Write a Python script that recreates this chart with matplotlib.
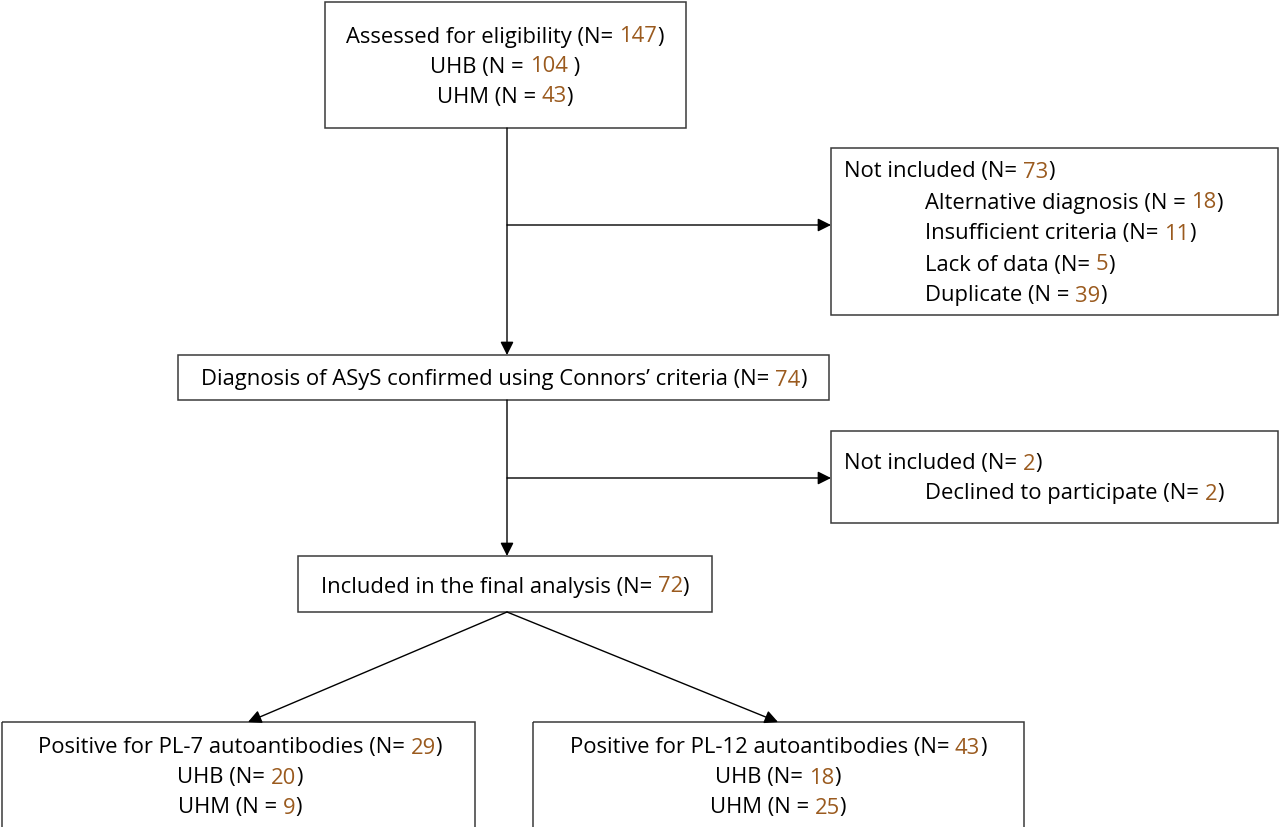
import matplotlib.pyplot as plt
from matplotlib.patches import Rectangle

# FLOW COUNTS
assessed_total = 147
sites = ["UHB", "UHM"]
assessed_by_site = [104, 43]
not_included_1 = 73
reasons = ["Alternative diagnosis", "Insufficient criteria", "Lack of data", "Duplicate"]
reason_counts = [18, 11, 5, 39]
reason_eq = ["N = ", "N= ", "N= ", "N = "]
confirmed = 74
not_included_2 = 2
declined = 2
included = 72
pl7_total = 29
pl7_by_site = [20, 9]
pl12_total = 43
pl12_by_site = [18, 25]

BROWN = "#9a5a1e"
EDGE = "#3a3a3a"
FS = 15.8

plt.rcParams["font.family"] = ["Open Sans", "DejaVu Sans"]

fig = plt.figure(figsize=(12.8, 8.27), dpi=100)
ax = fig.add_axes([0, 0, 1, 1])
ax.set_xlim(0, 1280)
ax.set_ylim(827, 0)
ax.axis("off")
fig.canvas.draw()
renderer = fig.canvas.get_renderer()


def rich_line(x, y, parts, ha="center"):
    # parts: list of (text, colour); drawn side by side
    texts = [ax.text(0, y, s, color=c, fontsize=FS, va="center", ha="left") for s, c in parts]
    widths = [t.get_window_extent(renderer).width for t in texts]
    total = sum(widths)
    start = x - total / 2 if ha == "center" else x
    for t, w in zip(texts, widths):
        t.set_x(start)
        start += w


def num_line(prefix, n, suffix=")"):
    return [(prefix, "black"), (str(n), BROWN), (suffix, "black")]


def box(x0, y0, x1, y1):
    ax.add_patch(Rectangle((x0, y0), x1 - x0, y1 - y0, fill=False, ec=EDGE, lw=1.1))


def arrow(x0, y0, x1, y1):
    ax.annotate("", xy=(x1, y1), xytext=(x0, y0),
                arrowprops=dict(arrowstyle="-|>", color="black", lw=1,
                                mutation_scale=20, shrinkA=0, shrinkB=0))


# BOXES
box(325, 2, 686, 128)
rich_line(505, 37, num_line("Assessed for eligibility (N= ", assessed_total))
rich_line(505, 67, num_line(sites[0] + " (N = ", assessed_by_site[0], " )"))
rich_line(505, 97, num_line(sites[1] + " (N = ", assessed_by_site[1]))

box(831, 148, 1278, 315)
rich_line(844, 172, num_line("Not included (N= ", not_included_1), ha="left")
for i, (r, n, eq) in enumerate(zip(reasons, reason_counts, reason_eq)):
    rich_line(925, 203 + 31 * i, num_line(r + " (" + eq, n), ha="left")

box(178, 355, 829, 400)
rich_line(504, 380, num_line("Diagnosis of ASyS confirmed using Connors\u2019 criteria (N= ", confirmed))

box(831, 431, 1278, 523)
rich_line(844, 464, num_line("Not included (N= ", not_included_2), ha="left")
rich_line(925, 494, num_line("Declined to participate (N= ", declined), ha="left")

box(298, 556, 712, 612)
rich_line(505, 587, num_line("Included in the final analysis (N= ", included))

box(2, 722, 475, 840)
rich_line(240, 748, num_line("Positive for PL-7 autoantibodies (N= ", pl7_total))
rich_line(240, 778, num_line(sites[0] + " (N= ", pl7_by_site[0]))
rich_line(240, 808, num_line(sites[1] + " (N = ", pl7_by_site[1]))

box(533, 722, 1024, 840)
rich_line(778, 748, num_line("Positive for PL-12 autoantibodies (N= ", pl12_total))
rich_line(778, 778, num_line(sites[0] + " (N= ", pl12_by_site[0]))
rich_line(778, 808, num_line(sites[1] + " (N = ", pl12_by_site[1]))

# ARROWS
arrow(507, 128, 507, 355)
arrow(507, 225, 831, 225)
arrow(507, 400, 507, 556)
arrow(507, 478, 831, 478)
arrow(507, 612, 248, 722)
arrow(507, 612, 778, 722)

fig.savefig("out.png", dpi=100)
